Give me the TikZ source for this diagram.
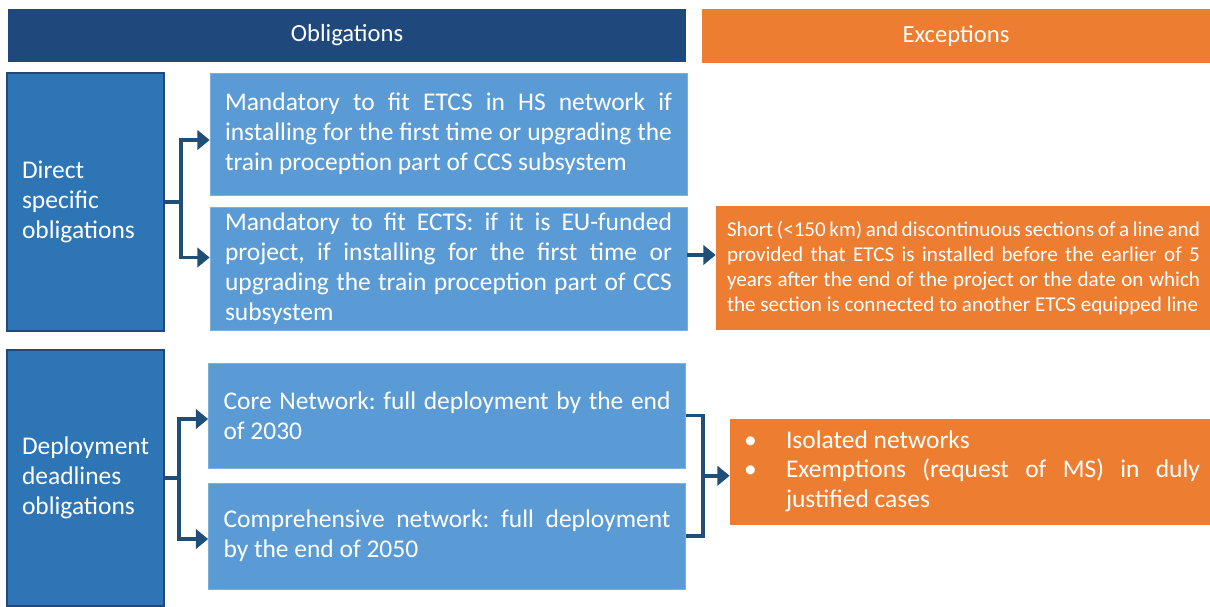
\documentclass[tikz,border=0pt]{standalone}
\usepackage{fontspec}
\setmainfont{Carlito}
\usetikzlibrary{arrows.meta,calc}
\definecolor{navy}{HTML}{1F497D}
\definecolor{midblue}{HTML}{2E75B6}
\definecolor{lightblue}{HTML}{5B9BD5}
\definecolor{excorange}{HTML}{ED7D31}
\definecolor{linkblue}{HTML}{1F4E79}
\hyphenpenalty=10000
\exhyphenpenalty=10000
\frenchspacing
\tikzset{
  head/.style={fill=#1,text=white,inner sep=0pt,font=\fontsize{14}{17}\selectfont},
  side/.style={fill=midblue,draw=navy,line width=0.8pt,text=white,inner sep=0pt,
    minimum width=3.14cm,text width=2.54cm,align=left,font=\fontsize{14.5}{17}\selectfont},
  item/.style={fill=lightblue,draw=lightblue!80!white,text=white,inner sep=0pt,
    minimum width=9.54cm,text width=8.94cm,align=justify,font=\fontsize{14.5}{17}\selectfont},
  exc/.style={fill=excorange,text=white,inner sep=0pt},
  link/.style={draw=linkblue,line width=2.2pt},
  conn/.style={link,-{Triangle[length=7pt,width=11pt]}}
}
\begin{document}
\begin{tikzpicture}
\useasboundingbox (0,0) rectangle (24.2,-12.12);
    % column headers
    \node[head=navy,minimum width=13.56cm,minimum height=1.06cm] (obl) at (6.94,-0.71){Obligations};
    \node[head=excorange,minimum width=10.16cm,minimum height=1.08cm] (exh) at (19.12,-0.72){Exceptions};
    % direct specific obligations
    \node[side,minimum height=5.16cm] (dso) at (1.71,-4.04){Direct\\specific\\obligations};
    \node[item,minimum height=2.44cm] (hsn) at (8.97,-2.68){Mandatory to fit ETCS in HS network if installing for the first time or upgrading the train proception part of CCS subsystem};
    \node[item,minimum height=2.46cm] (euf) at (8.97,-5.37){Mandatory to fit ECTS: if it is EU-funded project, if installing for the first time or upgrading the train proception part of CCS subsystem};
    \node[exc,minimum width=9.9cm,minimum height=2.48cm,text width=9.46cm,align=justify,
      font=\fontsize{12}{14.2}\selectfont] (shrt) at (19.27,-5.36){Short (<150 km) and discontinuous sections of a line and provided that ETCS is installed before the earlier of 5 years after the end of the project or the date on which the section is connected to another ETCS equipped line};
    % deployment deadlines
    \node[side,minimum height=5.12cm] (ddo) at (1.71,-9.56){Deployment\\deadlines\\obligations};
    \node[item,minimum height=2.1cm] (core) at (8.94,-8.31){Core Network: full deployment by the end of 2030};
    \node[item,minimum height=2.12cm] (comp) at (8.94,-10.72){Comprehensive network: full deployment by the end of 2050};
    \node[exc,minimum width=9.6cm,minimum height=2.12cm,font=\fontsize{14.5}{17}\selectfont] (isol) at (19.4,-9.44){%
      \begin{tabular}{@{}p{0.92cm}@{}p{8.28cm}@{}}
      \hspace{0.08cm}\textbullet & Isolated networks\\
      \hspace{0.08cm}\textbullet & Exemptions (request of MS) in duly justified cases
      \end{tabular}};
    % connectors
    \draw[conn] (dso.east) -- ++(0.32,0) |- ([yshift=-0.12cm]hsn.west);
    \draw[conn] (dso.east) -- ++(0.32,0) |- ([yshift=0.22cm]euf.west);
    \draw[conn] ([yshift=0.27cm]euf.east) -- ([yshift=0.27cm]euf.east -| shrt.west);
    \draw[conn] (ddo.east) -- ++(0.28,0) |- ([yshift=-0.07cm]core.west);
    \draw[conn] (ddo.east) -- ++(0.28,0) |- ([yshift=-0.06cm]comp.west);
    \draw[link] (core.east) -- ++(0.34,0) |- (comp.east);
    \coordinate (join) at ($(core.east)!.5!(comp.east)+(0.34,0)$);
    \draw[conn] (join) -- (join -| isol.west);
\end{tikzpicture}
\end{document}
